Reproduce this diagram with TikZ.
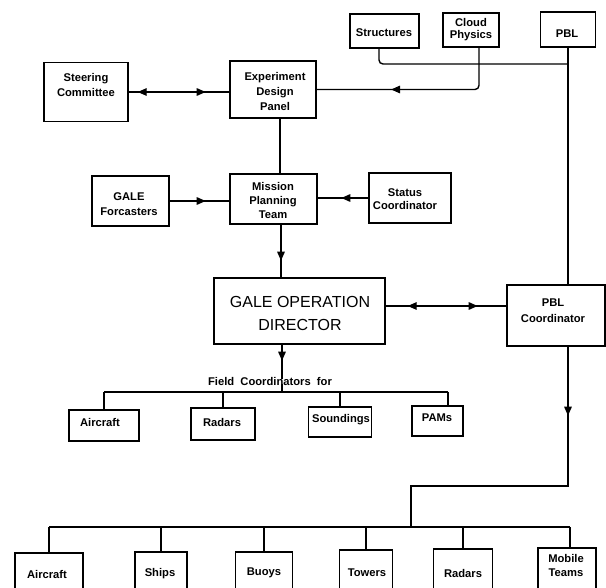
\documentclass[tikz,border=0pt]{standalone}
\usepackage{fontspec}
\setmainfont{Liberation Sans}
\usetikzlibrary{arrows.meta,decorations.markings}
\tikzset{
  x=1pt,y=-1pt,
  box/.style={draw,line width=1.4pt,inner sep=0pt},
  lbl/.style={align=center,inner sep=0pt,font=\fontsize{11.2}{14}\selectfont\bfseries},
  conn/.style={line width=1.4pt},
  >={Triangle[length=9pt,width=7.5pt]},
  fwdat/.style={postaction={decorate},decoration={markings,mark=at position #1 with {\arrow{>}}}},
  twoway/.style 2 args={postaction={decorate},decoration={markings,
      mark=at position #1 with {\arrow{<}},mark=at position #2 with {\arrow{>}}}},
}
\begin{document}
\begin{tikzpicture}
\useasboundingbox (0,0) rectangle (606,588);
\clip (0,0) rectangle (606,588);
% top boxes
\node[box,minimum width=84pt,minimum height=59pt] (sc) at (86,92) {};
\node[lbl,font=\fontsize{11.2}{15}\selectfont\bfseries] (sct) at (86,85) {Steering\\Committee};
\node[box,minimum width=86pt,minimum height=57pt] (edp) at (273,89.5) {};
\node[lbl,font=\fontsize{11.2}{15}\selectfont\bfseries] (edpt) at (275,91) {Experiment\\Design\\Panel};
\node[box,minimum width=69pt,minimum height=34pt] (st) at (384.5,31) {};
\node[lbl] (stt) at (384,33) {Structures};
\node[box,minimum width=56pt,minimum height=34pt] (cp) at (471,30) {};
\node[lbl,font=\fontsize{11.2}{11.5}\selectfont\bfseries] (cpt) at (471,29.5) {Cloud\\Physics};
\node[box,minimum width=55pt,minimum height=35pt] (pbl) at (568,29.5) {};
\node[lbl] (pblt) at (567,34) {PBL};
% middle
\node[box,minimum width=77pt,minimum height=50pt] (gf) at (130.5,201) {};
\node[lbl,font=\fontsize{11.2}{15}\selectfont\bfseries] (gft) at (129,204.5) {GALE\\Forcasters};
\node[box,minimum width=87pt,minimum height=50pt] (mpt) at (273.5,199) {};
\node[lbl] (mptt) at (273,200) {Mission\\Planning\\Team};
\node[box,minimum width=82pt,minimum height=50pt] (stc) at (410,198) {};
\node[lbl,font=\fontsize{11.2}{13}\selectfont\bfseries] (stct) at (405,199.5) {Status\\Coordinator};
\node[box,minimum width=171pt,minimum height=66pt] (god) at (299.5,311) {};
\node[align=center,inner sep=0pt,font=\fontsize{16}{23}\selectfont] (godt) at (300,313.5) {GALE OPERATION\\DIRECTOR};
\node[box,minimum width=98pt,minimum height=61pt] (pblc) at (556,315.5) {};
\node[lbl,font=\fontsize{11.2}{16}\selectfont\bfseries] (pblct) at (553,311) {PBL\\Coordinator};
% field coordinators
\node[lbl] (fcl) at (270,381) {Field\ \ Coordinators\ \ for};
\node[box,minimum width=70pt,minimum height=31pt] (fa) at (104,425.5) {};
\node[lbl] (fat) at (100,422) {Aircraft};
\node[box,minimum width=64pt,minimum height=32pt] (fr) at (223,424) {};
\node[lbl] (frt) at (222,422) {Radars};
\node[box,minimum width=63pt,minimum height=30pt] (fs) at (340,422) {};
\node[lbl] (fst) at (341,420) {Soundings};
\node[box,minimum width=51pt,minimum height=30pt] (fp) at (437.5,421) {};
\node[lbl] (fpt) at (437,418) {PAMs};
% bottom boxes
\node[box,minimum width=68pt,minimum height=47pt] (ba) at (49,576.5) {};
\node[lbl] (bat) at (47,574) {Aircraft};
\node[box,minimum width=52pt,minimum height=48pt] (bs) at (161,576) {};
\node[lbl] (bst) at (160,574) {Ships};
\node[box,minimum width=57pt,minimum height=48pt] (bb) at (264,576) {};
\node[lbl] (bbt) at (264,573) {Buoys};
\node[box,minimum width=53pt,minimum height=50pt] (bt) at (366,575) {};
\node[lbl] (btt) at (367,573) {Towers};
\node[box,minimum width=59pt,minimum height=51pt] (br) at (463,574.5) {};
\node[lbl] (brt) at (463,573) {Radars};
\node[box,minimum width=58pt,minimum height=52pt] (bm) at (567,574) {};
\node[lbl] (bmt) at (566,565) {Mobile\\Teams};
% coordinates
\coordinate (sj) at (568,64);
\coordinate (gx) at (282,0);
\coordinate (fbl) at (104,392);
\coordinate (fbr) at (448,392);
\coordinate (pk) at (568,486);
\coordinate (pj) at (411,486);
\coordinate (bbl) at (49,527);
\coordinate (bbr) at (570,527);
% connectors
\draw[conn,twoway={18pt}{77pt}] (sc.east) -- (sc.east -| edp.west);
\draw[conn,rounded corners=4pt,fwdat=128pt] ([xshift=8pt]cp.south) |- (edp.east);
\draw[conn,rounded corners=4pt] ([xshift=-5.5pt]st.south) |- (sj);
\draw[conn] (pbl.south) -- (pbl.south |- pblc.north);
\draw[conn] ([xshift=7pt]edp.south) -- ([xshift=7pt]edp.south |- mpt.north);
\draw[conn,fwdat=36pt] (gf.east) -- (gf.east -| mpt.west);
\draw[conn,fwdat=27pt] (stc.west) -- (stc.west -| mpt.east);
\draw[conn,fwdat=36pt] ([xshift=7.5pt]mpt.south) -- ([xshift=7.5pt]mpt.south |- god.north);
\draw[conn,twoway={31pt}{92pt}] ([yshift=5pt]god.east) -- ([yshift=5pt]god.east -| pblc.west);
\draw[conn,fwdat=16pt] (god.south -| gx) -- ([yshift=-2pt]fcl.north -| gx);
\draw[conn] ([yshift=1pt]fcl.south -| gx) -- (gx |- fbl);
\draw[conn] (fbl) -- (fbr);
\draw[conn] (fbl) -- (fbl |- fa.north);
\draw[conn] (fr.north |- fbl) -- (fr.north);
\draw[conn] (fs.north |- fbl) -- (fs.north);
\draw[conn] (fbr) -- (fbr |- fp.north);
\draw[conn,fwdat=69pt] (pblc.south -| pk) -- (pk) -- (pj) -- (pj |- bbl);
\draw[conn] (bbl) -- (bbr);
\draw[conn] (bbl) -- (bbl |- ba.north);
\draw[conn] (bs.north |- bbl) -- (bs.north);
\draw[conn] (bb.north |- bbl) -- (bb.north);
\draw[conn] (bt.north |- bbl) -- (bt.north);
\draw[conn] (br.north |- bbl) -- (br.north);
\draw[conn] (bbr) -- (bbr |- bm.north);
\end{tikzpicture}
\end{document}
